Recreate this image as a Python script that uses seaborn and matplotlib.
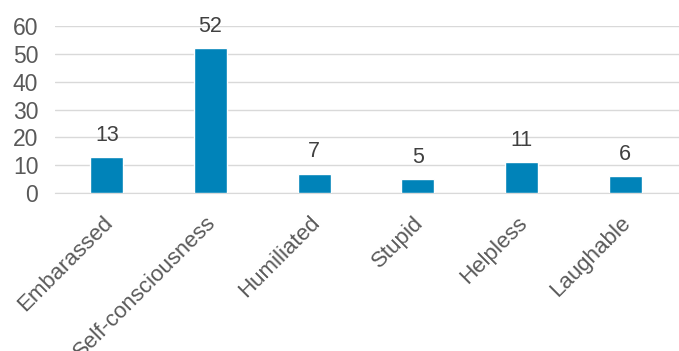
import matplotlib.pyplot as plt
import matplotlib.transforms as mtransforms
import seaborn as sns
import pandas as pd

categories = ["Embarassed", "Self-consciousness", "Humiliated", "Stupid", "Helpless", "Laughable"]
counts = [13, 52, 7, 5, 11, 6]

df = pd.DataFrame({"feeling": categories, "count": counts})

sns.set_style("white")
plt.rcParams['font.family'] = ['Liberation Sans', 'DejaVu Sans']

fig = plt.figure(figsize=(6.79, 3.51), dpi=100)
ax = fig.add_axes([0.081, 0.45, 0.919, 0.476])

sns.barplot(data=df, x="feeling", y="count", color="#0083b9", width=0.32,
            saturation=1, ax=ax, zorder=3)
ax.bar_label(ax.containers[0], padding=8, fontsize=15.5, color="#404040")

ax.set_ylim(0, 60)
ax.set_xlim(-0.5, 5.52)
ax.set_yticks(range(0, 61, 10))
ax.yaxis.grid(True, color="#d9d9d9", linewidth=1, zorder=0)
ax.set_xlabel("")
ax.set_ylabel("")
for s in ["top", "right", "left"]:
    ax.spines[s].set_visible(False)
ax.spines["bottom"].set_color("#d9d9d9")
ax.tick_params(axis="y", length=0, labelsize=16.5, labelcolor="#595959", pad=12)
ax.tick_params(axis="x", length=0, labelsize=16, labelcolor="#595959", pad=14)
shift = mtransforms.ScaledTranslation(-0.05, 0, fig.dpi_scale_trans)
for lab in ax.get_xticklabels():
    lab.set_rotation(45)
    lab.set_ha("right")
    lab.set_rotation_mode("anchor")
    lab.set_transform(lab.get_transform() + shift)

fig.savefig("out.png", dpi=100)
